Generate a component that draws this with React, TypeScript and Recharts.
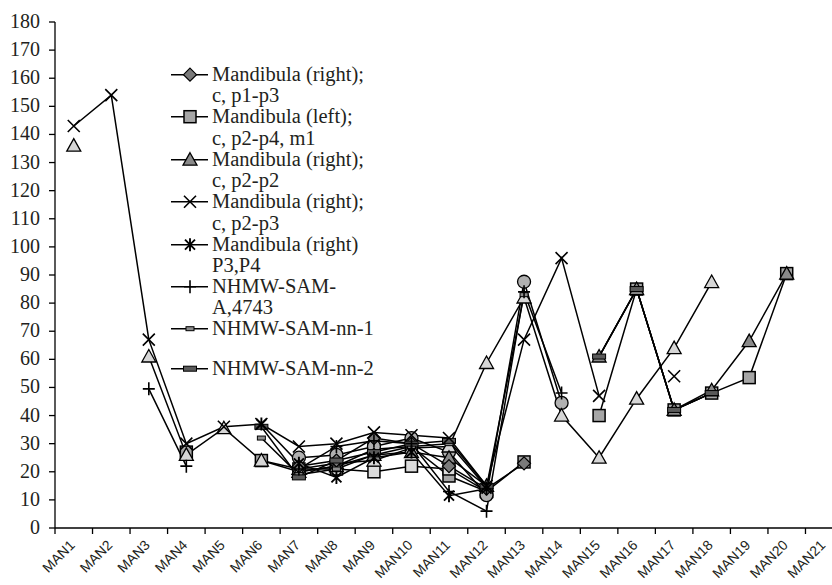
import React from 'react';
import { LineChart, Line, XAxis, YAxis, Legend } from 'recharts';

const categories = [
  'MAN1', 'MAN2', 'MAN3', 'MAN4', 'MAN5', 'MAN6', 'MAN7', 'MAN8', 'MAN9', 'MAN10', 'MAN11',
  'MAN12', 'MAN13', 'MAN14', 'MAN15', 'MAN16', 'MAN17', 'MAN18', 'MAN19', 'MAN20', 'MAN21',
];
const yTicks = [0, 10, 20, 30, 40, 50, 60, 70, 80, 90, 100, 110, 120, 130, 140, 150, 160, 170, 180];

const n = null;
const diamondVals = [n, n, n, n, n, n, 22, 24, 32, 30, 22, 14, 23, n, n, n, n, n, n, n, n];
const squareVals = [n, n, n, 27, n, 24, 20, 22, 28, 29, 18.5, 13, 23.5, n, 40, 85, 42, 48, 53.5, 90.5, n];
const darkTriVals = [n, n, n, n, n, n, 20, 22, 26, 27, 25, 15, n, n, 61, 85, 42, 49, 66.5, 90.5, n];
const crossVals = [143, 154, 67, 30, 36, 37, 29, 30, 34, 33, 32, 15, 67, 96, 47, n, 54, n, n, n, n];
const starVals = [n, n, n, n, n, 37, 23, 18, 25, 27, 11.5, 14, n, n, n, n, n, n, n, n, n];
const plusVals = [n, n, 49.5, 22, n, n, 21, 29, 31, 30, 13, 6, 84, 48, n, n, n, n, n, n, n];
const dash1Vals = [n, n, n, n, n, 32, 19, 21, 26, 29, 30, 14.5, 83, n, 61, 85, 42, 48, n, n, n];
const dash2Vals = [n, n, n, n, n, 36, 18, 24, 27, 30, 31, 15, n, n, 61, 85, 42, 48, n, n, n];
const circleVals = [n, n, n, n, n, n, 25, 26, 29, 32, 27, 11.7, 87.6, 44.5, n, n, n, n, n, n, n];
const lightTriVals = [136, n, 61, 26, 35.5, 24, 21, 23, 24, 28.5, 29, 58.7, 82, 40, 25, 46, 64, 87.5, n, n, n];
const lightSqVals = [n, n, n, n, n, n, 21, 21, 20, 22, 21, 13, n, n, n, n, n, n, n, n, n];

type Shape = 'diamond' | 'square' | 'triangle' | 'x' | 'star' | 'plus' | 'circle' | 'dash1' | 'dash2';

interface SeriesDef {
  key: string;
  name: string;
  values: (number | null)[];
  shape: Shape;
  fill: string;
  legend: boolean;
}

// drawing order (later on top)
const seriesDefs: SeriesDef[] = [
  { key: 'sq', name: 'Mandibula (left);\nc, p2-p4, m1', values: squareVals, shape: 'square', fill: '#a6a6a6', legend: true },
  { key: 'lsq', name: 'Series 11', values: lightSqVals, shape: 'square', fill: '#dcdcdc', legend: false },
  { key: 'ci', name: 'Series 9', values: circleVals, shape: 'circle', fill: '#b0b0b0', legend: false },
  { key: 'ltri', name: 'Series 10', values: lightTriVals, shape: 'triangle', fill: '#d6d6d6', legend: false },
  { key: 'tri', name: 'Mandibula (right);\nc, p2-p2', values: darkTriVals, shape: 'triangle', fill: '#8a8a8a', legend: true },
  { key: 'dia', name: 'Mandibula (right);\nc, p1-p3', values: diamondVals, shape: 'diamond', fill: '#7a7a7a', legend: true },
  { key: 'd1', name: 'NHMW-SAM-nn-1', values: dash1Vals, shape: 'dash1', fill: '#8c8c8c', legend: true },
  { key: 'd2', name: 'NHMW-SAM-nn-2', values: dash2Vals, shape: 'dash2', fill: '#5a5a5a', legend: true },
  { key: 'pl', name: 'NHMW-SAM-\nA,4743', values: plusVals, shape: 'plus', fill: '#000', legend: true },
  { key: 'st', name: 'Mandibula (right)\nP3,P4', values: starVals, shape: 'star', fill: '#000', legend: true },
  { key: 'cr', name: 'Mandibula (right);\nc, p2-p3', values: crossVals, shape: 'x', fill: '#000', legend: true },
];

const legendOrder = ['dia', 'sq', 'tri', 'cr', 'st', 'pl', 'd1', 'd2'];

const data = categories.map((c, i) => {
  const row: Record<string, number | string | null> = { x: i + 0.5, cat: c };
  seriesDefs.forEach((s) => {
    row[s.key] = s.values[i];
  });
  return row;
});

const xTicks = categories.map((_, i) => i).concat([categories.length]);

const CHART_W = 850;
const CHART_H = 585;
const MARGIN = { top: 22, right: 7, bottom: 0, left: 0 };
const Y_W = 55;
const X_H = 57;
const BAND = (CHART_W - MARGIN.left - MARGIN.right - Y_W) / categories.length;

const TEXT = '#231f20';
const SERIF = '"Liberation Serif", "Times New Roman", serif';
const SANS = '"Liberation Sans", Arial, sans-serif';

function Marker({ shape, cx, cy, fill }: { shape: Shape; cx: number; cy: number; fill: string }) {
  const s = '#000';
  switch (shape) {
    case 'diamond':
      return (
        <polygon
          points={`${cx},${cy - 6.5} ${cx + 6.5},${cy} ${cx},${cy + 6.5} ${cx - 6.5},${cy}`}
          fill={fill}
          stroke={s}
          strokeWidth={1.2}
        />
      );
    case 'square':
      return <rect x={cx - 6} y={cy - 6} width={12} height={12} fill={fill} stroke={s} strokeWidth={1.5} />;
    case 'triangle':
      return (
        <polygon
          points={`${cx},${cy - 7} ${cx + 7},${cy + 5.5} ${cx - 7},${cy + 5.5}`}
          fill={fill}
          stroke={s}
          strokeWidth={1.3}
        />
      );
    case 'x':
      return (
        <path
          d={`M${cx - 6},${cy - 6}L${cx + 6},${cy + 6}M${cx - 6},${cy + 6}L${cx + 6},${cy - 6}`}
          stroke={s}
          strokeWidth={1.6}
          fill="none"
        />
      );
    case 'star':
      return (
        <path
          d={`M${cx - 5},${cy - 5}L${cx + 5},${cy + 5}M${cx - 5},${cy + 5}L${cx + 5},${cy - 5}M${cx},${cy - 6.5}L${cx},${cy + 6.5}`}
          stroke={s}
          strokeWidth={1.9}
          fill="none"
        />
      );
    case 'plus':
      return (
        <path
          d={`M${cx - 6},${cy}L${cx + 6},${cy}M${cx},${cy - 6.5}L${cx},${cy + 6.5}`}
          stroke={s}
          strokeWidth={1.6}
          fill="none"
        />
      );
    case 'circle':
      return <circle cx={cx} cy={cy} r={6.5} fill={fill} stroke={s} strokeWidth={1.3} />;
    case 'dash1':
      return <rect x={cx - 4} y={cy - 2} width={8} height={4} fill={fill} stroke={s} strokeWidth={1} />;
    case 'dash2':
      return <rect x={cx - 6.5} y={cy - 2.5} width={13} height={5} fill={fill} stroke={s} strokeWidth={1} />;
    default:
      return null;
  }
}

const makeDot = (shape: Shape, fill: string) => (props: any) => {
  const { cx, cy, value, index } = props;
  if (value == null || cx == null || cy == null || Number.isNaN(cy)) {
    return <g key={`e-${index}`} />;
  }
  return (
    <g key={`d-${index}`}>
      <Marker shape={shape} cx={cx} cy={cy} fill={fill} />
    </g>
  );
};

const XTick = (props: any) => {
  const { x, y, payload } = props;
  const i = payload.value as number;
  if (i >= categories.length) return <g />;
  const ax = x + BAND / 2 + 2;
  const ay = y + 10;
  return (
    <g transform={`translate(${ax}, ${ay}) rotate(-45)`}>
      <text x={0} y={0} textAnchor="end" fontFamily={SANS} fontSize={14} fill={TEXT}>
        {categories[i]}
      </text>
    </g>
  );
};

const YTick = (props: any) => {
  const { x, y, payload } = props;
  return (
    <text x={x} y={y} dy={6} textAnchor="end" fontFamily={SERIF} fontSize={20} fill={TEXT}>
      {payload.value}
    </text>
  );
};

const LegendContent = (props: any) => {
  const payload = (props.payload || []).filter((p: any) => legendOrder.indexOf(p.dataKey) >= 0);
  payload.sort((a: any, b: any) => legendOrder.indexOf(a.dataKey) - legendOrder.indexOf(b.dataKey));
  return (
    <div style={{ fontFamily: SERIF, fontSize: 20.5, color: TEXT }}>
      {payload.map((p: any) => {
        const def = seriesDefs.find((s) => s.key === p.dataKey)!;
        const lines = String(p.value).split('\n');
        return (
          <div
            key={p.dataKey}
            style={{ display: 'flex', alignItems: 'flex-start', height: lines.length > 1 ? 42.4 : 40 }}
          >
            <svg width={40} height={21.4} style={{ flex: 'none', display: 'block' }}>
              <line x1={2} y1={10.7} x2={39} y2={10.7} stroke="#000" strokeWidth={1.5} />
              <Marker shape={def.shape} cx={21} cy={10.7} fill={def.fill} />
            </svg>
            <div style={{ marginLeft: 3, lineHeight: '21.4px', whiteSpace: 'pre' }}>{lines.join('\n')}</div>
          </div>
        );
      })}
    </div>
  );
};

export default function App() {
  return (
    <div
      style={{
        position: 'absolute',
        left: 0,
        top: 0,
        width: 832,
        height: 585,
        overflow: 'hidden',
        background: '#fff',
      }}
    >
      <LineChart width={CHART_W} height={CHART_H} data={data} margin={MARGIN}>
        <XAxis
          type="number"
          dataKey="x"
          domain={[0, categories.length]}
          ticks={xTicks}
          interval={0}
          height={X_H}
          tick={<XTick />}
          tickSize={6}
          axisLine={{ stroke: '#000', strokeWidth: 1.3 }}
          tickLine={{ stroke: '#000', strokeWidth: 1.3 }}
        />
        <YAxis
          type="number"
          domain={[0, 180]}
          ticks={yTicks}
          interval={0}
          width={Y_W}
          tickSize={6}
          tickMargin={9}
          axisLine={{ stroke: '#000', strokeWidth: 1.3 }}
          tickLine={{ stroke: '#000', strokeWidth: 1.3 }}
          tick={<YTick />}
        />
        <Legend
          layout="vertical"
          align="center"
          verticalAlign="middle"
          wrapperStyle={{ left: 169, top: 64, width: 240 }}
          content={<LegendContent />}
        />
        {seriesDefs.map((s) => (
          <Line
            key={s.key}
            dataKey={s.key}
            name={s.name}
            type="linear"
            stroke="#000"
            strokeWidth={1.5}
            connectNulls={false}
            isAnimationActive={false}
            activeDot={false}
            legendType={s.legend ? 'line' : 'none'}
            dot={makeDot(s.shape, s.fill)}
          />
        ))}
      </LineChart>
    </div>
  );
}
